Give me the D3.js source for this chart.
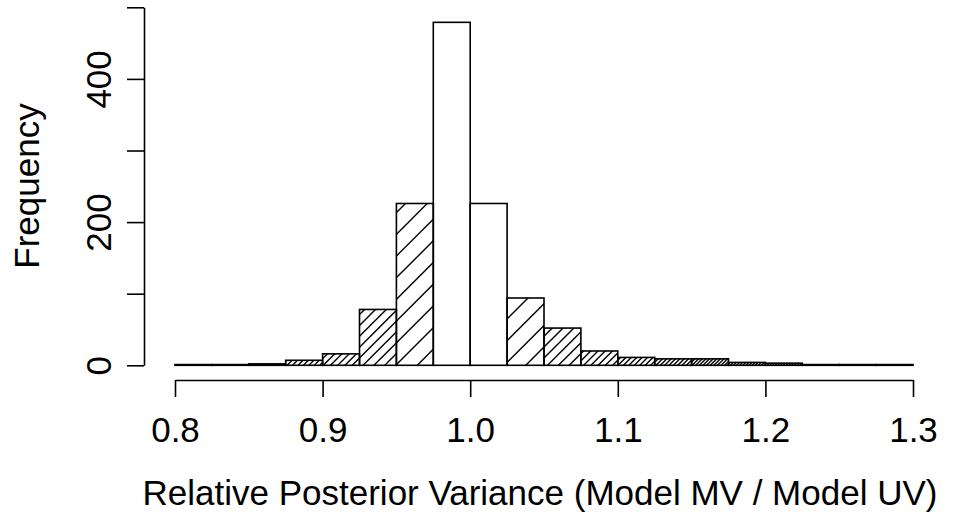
<!DOCTYPE html>
<html>
<head>
<meta charset="utf-8">
<script src="https://cdn.jsdelivr.net/npm/d3@7"></script>
<style>
  html, body { margin: 0; padding: 0; background: #fff; }
  svg { display: block; }
  text { font-family: "Liberation Sans", Arial, sans-serif; fill: #000; }
</style>
</head>
<body>
<svg id="chart" width="964" height="520"></svg>
<script>
// ---- data ----
const binStarts = [0.800, 0.825, 0.850, 0.875, 0.900, 0.925, 0.950, 0.975, 1.000, 1.025,
                   1.050, 1.075, 1.100, 1.125, 1.150, 1.175, 1.200, 1.225, 1.250, 1.275];
const binWidth = 0.025;
const counts = [1, 1, 2, 7, 16, 78, 226, 479, 226, 94,
                52, 20, 11, 9, 9, 4, 3, 1, 1, 1];
const xTicks = [0.8, 0.9, 1.0, 1.1, 1.2, 1.3];
const yTicks = [0, 100, 200, 300, 400, 500];
const yTickLabels = [0, 200, 400];
const xTitle = "Relative Posterior Variance (Model MV / Model UV)";
const yTitle = "Frequency";

// ---- layout ----
const svg = d3.select("#chart");
const x = d3.scaleLinear().domain([0.8, 1.3]).range([175, 913]);
const y = d3.scaleLinear().domain([0, 500]).range([365.3, 7.3]);
const FS = 35;

const bins = binStarts.map((s, i) => ({ x0: s, x1: s + binWidth, n: counts[i], i }));

const defs = svg.append("defs");
const gBars = svg.append("g");

bins.forEach(b => {
  const left = x(b.x0), right = x(b.x1);
  const top = y(b.n), bottom = y(0);
  const mid = (b.x0 + b.x1) / 2;
  const k = Math.round(Math.abs(mid - 1) / binWidth - 0.5);
  if (k > 0) {
    const spacing = 21.7 / k;
    const id = "clip" + b.i;
    defs.append("clipPath").attr("id", id)
      .append("rect").attr("x", left).attr("y", top)
      .attr("width", right - left).attr("height", Math.max(bottom - top, 0.01));
    const g = gBars.append("g").attr("clip-path", `url(#${id})`);
    // lines x + y = c
    const cMin = left + top, cMax = right + bottom;
    const phase = 609;
    let c = phase + Math.ceil((cMin - phase) / spacing) * spacing;
    for (; c <= cMax + spacing; c += spacing) {
      g.append("line")
        .attr("x1", c - bottom - 2).attr("y1", bottom + 2)
        .attr("x2", c - top + 2).attr("y2", top - 2)
        .attr("stroke", "#000").attr("stroke-width", 1.4);
    }
  }
  gBars.append("rect")
    .attr("x", left).attr("y", top)
    .attr("width", right - left).attr("height", bottom - top)
    .attr("fill", "none").attr("stroke", "#000").attr("stroke-width", 1.6);
});

// ---- x axis ----
const xAxis = d3.axisBottom(x).tickValues(xTicks).tickFormat(d3.format(".1f"))
  .tickSize(17).tickPadding(8).tickSizeOuter(0);
const gx = svg.append("g").attr("transform", "translate(0,380)").call(xAxis);
gx.select(".domain").attr("stroke", "#000").attr("stroke-width", 1.6);
gx.selectAll(".tick line").attr("stroke", "#000").attr("stroke-width", 1.6);
gx.selectAll(".tick text").attr("font-size", FS).attr("font-family", "Liberation Sans, Arial, sans-serif")
  .attr("y", 0).attr("dy", null).attr("transform", "translate(0,62)")
  .attr("dominant-baseline", "auto");

// ---- y axis ----
const yAxis = d3.axisLeft(y).tickValues(yTicks)
  .tickFormat(d => yTickLabels.includes(d) ? String(d) : "")
  .tickSize(17).tickPadding(0).tickSizeOuter(0);
const gy = svg.append("g").attr("transform", "translate(144,0)").call(yAxis);
gy.select(".domain").attr("stroke", "#000").attr("stroke-width", 1.6);
gy.selectAll(".tick line").attr("stroke", "#000").attr("stroke-width", 1.6);
gy.selectAll(".tick text").attr("font-size", FS).attr("font-family", "Liberation Sans, Arial, sans-serif")
  .attr("x", null).attr("dy", null).attr("y", null)
  .attr("text-anchor", "middle")
  .attr("transform", "translate(-33,0) rotate(-90)");

// ---- titles ----
svg.append("text").attr("x", 540).attr("y", 505)
  .attr("text-anchor", "middle").attr("font-size", FS).text(xTitle);
svg.append("text").attr("transform", "translate(39,186) rotate(-90)")
  .attr("text-anchor", "middle").attr("font-size", FS).text(yTitle);
</script>
</body>
</html>
